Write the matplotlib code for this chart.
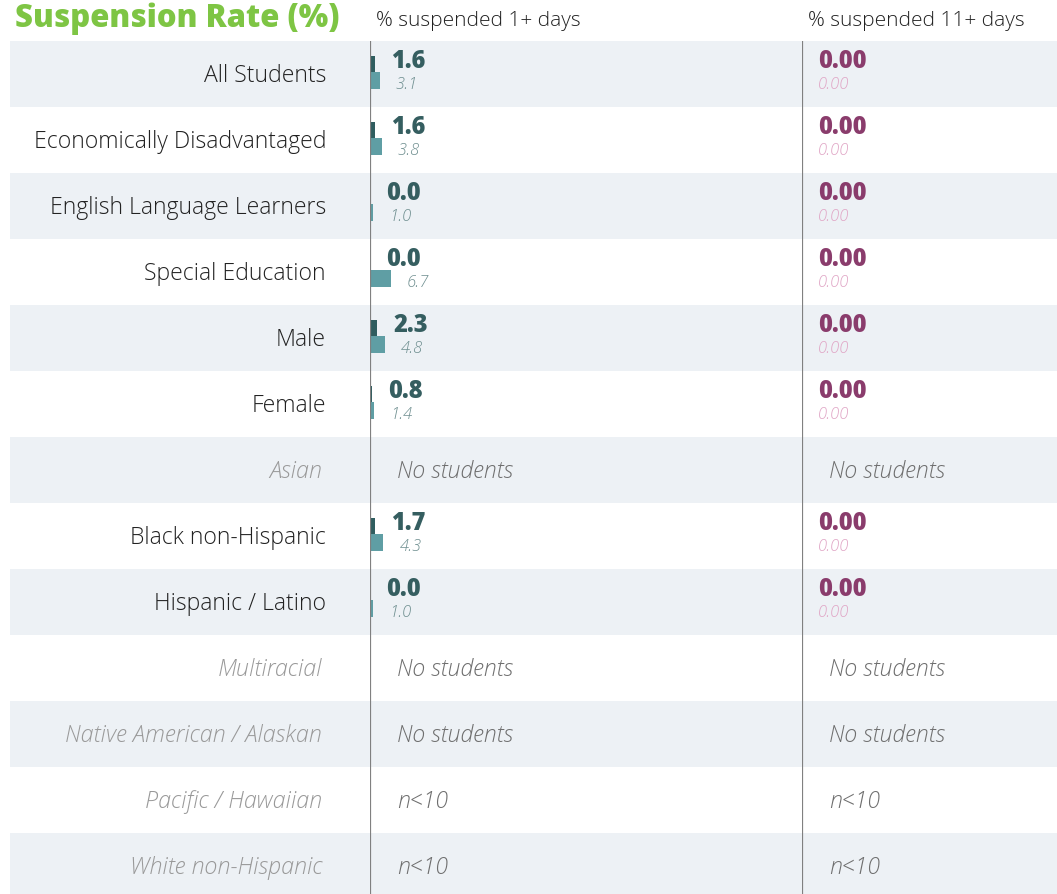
import matplotlib
matplotlib.use("Agg")
import matplotlib.pyplot as plt

plt.rcParams["font.family"] = ["Open Sans", "DejaVu Sans"]

# data
groups = ["All Students", "Economically Disadvantaged", "English Language Learners",
          "Special Education", "Male", "Female", "Asian", "Black non-Hispanic",
          "Hispanic / Latino", "Multiracial", "Native American / Alaskan",
          "Pacific / Hawaiian", "White non-Hispanic"]
susp_1 = [1.6, 1.6, 0.0, 0.0, 2.3, 0.8, None, 1.7, 0.0, None, None, None, None]
comp_1 = [3.1, 3.8, 1.0, 6.7, 4.8, 1.4, None, 4.3, 1.0, None, None, None, None]
susp_11 = [0.00, 0.00, 0.00, 0.00, 0.00, 0.00, None, 0.00, 0.00, None, None, None, None]
comp_11 = [0.00, 0.00, 0.00, 0.00, 0.00, 0.00, None, 0.00, 0.00, None, None, None, None]
status = ["", "", "", "", "", "", "No students", "", "", "No students",
          "No students", "n<10", "n<10"]

W, H = 1057, 894
fig = plt.figure(figsize=(W / 100, H / 100), dpi=100)
fig.patch.set_facecolor("white")

# colours
band = "#edf1f5"
dark = "#2f5d5f"
light = "#5f9ea4"
dark_txt = "#355e60"
light_txt = "#6f8f90"
purple = "#8a3c6c"
pink = "#e0a5c5"
axis_col = "#808080"
green = "#7ec544"

n = len(groups)
row_px = 66
top_px = 41
ax_bottom = (H - top_px - n * row_px) / H
ax_height = n * row_px / H
px_per_unit = 3.1

# background bands
bg = fig.add_axes([10 / W, ax_bottom, 1 - 10 / W, ax_height])
bg.set_xlim(0, 1)
bg.set_ylim(n - 0.5, -0.5)
for i in range(n):
    if i % 2 == 0:
        bg.axhspan(i - 0.5, i + 0.5, color=band, lw=0)
bg.axis("off")

x_left, x_mid = 370, 802
ax1 = fig.add_axes([x_left / W, ax_bottom, (x_mid - x_left) / W, ax_height])
ax2 = fig.add_axes([x_mid / W, ax_bottom, (W - x_mid) / W, ax_height])
ax1.set_xlim(0, (x_mid - x_left) / px_per_unit)
ax2.set_xlim(0, (W - x_mid) / px_per_unit)

for ax, main, comp, fmt, c_main, c_comp in [
        (ax1, susp_1, comp_1, "{:.1f}", dark_txt, light_txt),
        (ax2, susp_11, comp_11, "{:.2f}", purple, pink)]:
    ax.set_ylim(n - 0.5, -0.5)
    ax.patch.set_alpha(0)
    ax.axis("off")
    ax.axvline(0, color=axis_col, lw=1.6, zorder=5)
    for i in range(n):
        if main[i] is None:
            ax.annotate(status[i], xy=(0, i), xytext=(27, -2),
                        textcoords="offset pixels", ha="left", va="center",
                        fontsize=16.7, style="italic", fontweight="light",
                        color="#6e6e6e")
            continue
        if ax is ax1:
            ax.barh(i - 0.15, main[i], height=0.24, color=dark, zorder=3)
            ax.barh(i + 0.1, comp[i], height=0.26, color=light, zorder=3)
        ax.annotate(fmt.format(main[i]), xy=(main[i], i), xytext=(16, 13),
                    textcoords="offset pixels", ha="left", va="center",
                    fontsize=17, fontweight="heavy", color=c_main)
        ax.annotate(fmt.format(comp[i]), xy=(comp[i], i), xytext=(16, -11),
                    textcoords="offset pixels", ha="left", va="center",
                    fontsize=12, style="italic", fontweight="light",
                    color=c_comp)

# row labels
for i, g in enumerate(groups):
    if status[i]:
        ax1.annotate(g, xy=(0, i), xytext=(-48, -2), textcoords="offset pixels",
                     ha="right", va="center", fontsize=16.8, style="italic",
                     fontweight="light", color="#999999", annotation_clip=False)
    else:
        ax1.annotate(g, xy=(0, i), xytext=(-44, -2), textcoords="offset pixels",
                     ha="right", va="center", fontsize=16.6, fontweight="light",
                     color="#222222", annotation_clip=False)

# headers
fig.text(15 / W, 1 - 19 / H, "Suspension Rate (%)", ha="left", va="center",
         fontsize=22.4, fontweight="heavy", color=green)
fig.text(376 / W, 1 - 21 / H, "% suspended 1+ days", ha="left", va="center",
         fontsize=15, fontweight="light", color="#222222")
fig.text(808 / W, 1 - 21 / H, "% suspended 11+ days", ha="left", va="center",
         fontsize=15, fontweight="light", color="#222222")

fig.savefig("out.png", dpi=100)
